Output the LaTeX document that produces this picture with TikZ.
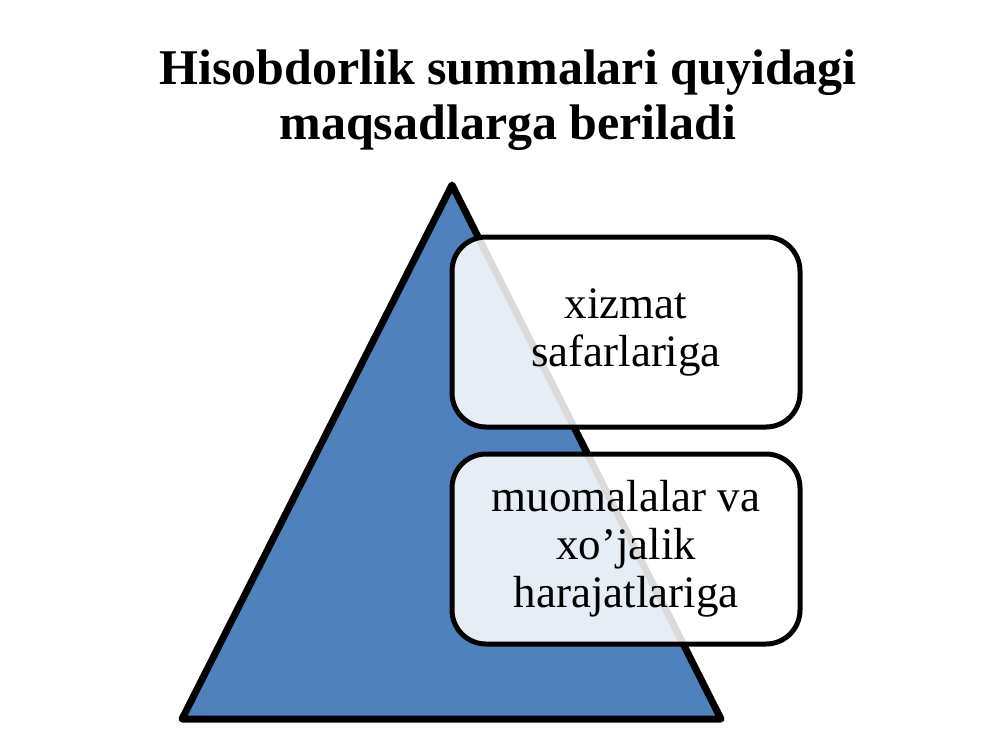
\documentclass[tikz,border=0pt]{standalone}
\usepackage{fontspec}
\setmainfont{Liberation Serif}
\usetikzlibrary{positioning}
\definecolor{pyrblue}{RGB}{79,129,189}

\begin{document}
\begin{tikzpicture}[x=1pt,y=-1pt,
    stepbox/.style={draw=black, line width=5pt, rounded corners=34pt, fill=white, fill opacity=.86, text opacity=1,
        minimum width=348pt, minimum height=190pt, align=center, font=\fontsize{45}{48}\selectfont}]
        \useasboundingbox (0,0) rectangle (1000,750);
        \node[font=\bfseries\fontsize{50}{55}\selectfont, align=center] (title) at (508,100)
            {Hisobdorlik summalari quyidagi\\maqsadlarga beriladi};
        \coordinate (apex) at (452,185);
        \coordinate (bl) at (182,719);
        \coordinate (br) at (721,719);
        \draw [draw=black, line width=7pt, line join=round, fill=pyrblue] (apex) -- (br) -- (bl) -- cycle;
        \node[stepbox] (trip) at (626,332) {xizmat\\safarlariga};
        \node[stepbox, below=22pt of trip] (house) {muomalalar va\\xo’jalik\\harajatlariga};
    \end{tikzpicture}
\end{document}
